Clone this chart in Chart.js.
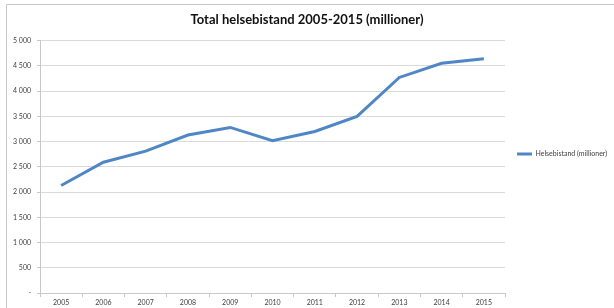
<!DOCTYPE html>
<html lang="no">
<head>
    <meta charset="UTF-8">
    <script src="https://cdn.jsdelivr.net/npm/chart.js"></script>
    <title>Total helsebistand</title>
    <style>
        html, body { margin: 0; padding: 0; background: #fff; overflow: hidden; }
        canvas { display: block; }
    </style>
</head>
<body>
<canvas id="helseChart" width="614" height="308"></canvas>
<script>
// years on the x axis
var years = ['2005', '2006', '2007', '2008', '2009', '2010', '2011', '2012', '2013', '2014', '2015'];
// total health aid, millions
var helsebistand = [2130, 2590, 2810, 3130, 3280, 3015, 3200, 3500, 4270, 4550, 4640];
var seriesName = 'Helsebistand (millioner)';
var titleText = 'Total helsebistand 2005-2015 (millioner)';

function fmt(v) {
    if (v === 0) return '-';
    return String(v).replace(/\B(?=(\d{3})+(?!\d))/g, ' ');
}

// chart area frame, only top and left edges are visible in the picture
var framePlugin = {
    id: 'frame',
    beforeDraw: function (chart) {
        var c = chart.ctx;
        c.save();
        c.strokeStyle = '#c6c6c6';
        c.lineWidth = 1;
        c.beginPath();
        c.moveTo(6.5, chart.height);
        c.lineTo(6.5, 4.5);
        c.lineTo(chart.width, 4.5);
        c.stroke();
        c.restore();
    }
};

var ctx = document.getElementById('helseChart').getContext('2d');
var myChart = new Chart(ctx, {
    type: 'line',
    data: {
        labels: years,
        datasets: [{
            label: seriesName,
            data: helsebistand,
            borderColor: '#4f87c6',
            backgroundColor: '#4f87c6',
            borderWidth: 3,
            pointRadius: 0,
            tension: 0,
            fill: false
        }]
    },
    options: {
        responsive: false,
        animation: false,
        devicePixelRatio: 1,
        layout: { padding: { left: 0, right: 0, top: 0, bottom: 0 } },
        plugins: {
            title: {
                display: true,
                text: titleText,
                color: '#111',
                font: { family: 'Lato', size: 13, weight: 'bold' },
                padding: { top: 12, bottom: 13 }
            },
            legend: {
                position: 'right',
                maxWidth: 109,
                labels: {
                    usePointStyle: true,
                    pointStyle: 'line',
                    pointStyleWidth: 15,
                    boxHeight: 7,
                    padding: 12,
                    color: '#404040',
                    font: { family: 'Lato', size: 7 }
                }
            },
            tooltip: { enabled: false }
        },
        scales: {
            x: {
                offset: true,
                grid: {
                    offset: true,
                    drawOnChartArea: false,
                    drawTicks: true,
                    tickLength: 4,
                    color: '#c8c8c8'
                },
                border: { color: '#c8c8c8' },
                ticks: {
                    color: '#404040',
                    padding: 2,
                    font: { family: 'Lato', size: 7 },
                    maxRotation: 0,
                    autoSkip: false
                },
                afterFit: function (scale) { scale.height = 15; }
            },
            y: {
                min: 0,
                max: 5000,
                grid: {
                    color: '#dadada',
                    tickLength: 3,
                    tickColor: '#c8c8c8'
                },
                border: { color: '#c8c8c8' },
                ticks: {
                    stepSize: 500,
                    padding: 6,
                    color: '#404040',
                    font: { family: 'Lato', size: 7 },
                    callback: function (v) { return fmt(v); }
                },
                afterFit: function (scale) { scale.width = 40; }
            }
        }
    },
    plugins: [framePlugin]
});
</script>
</body>
</html>
